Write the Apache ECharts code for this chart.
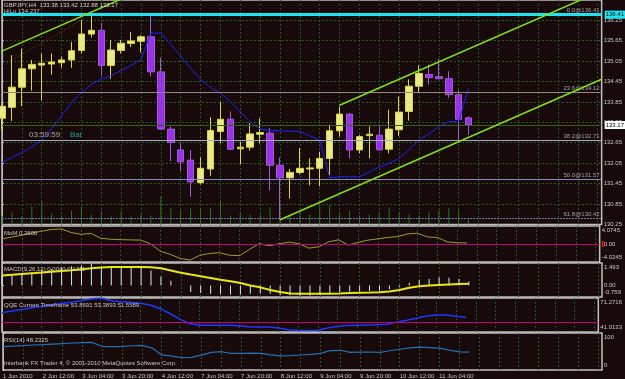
<!DOCTYPE html>
<html>
<head>
<meta charset="utf-8">
<script src="https://cdn.jsdelivr.net/npm/echarts@6/dist/echarts.min.js"></script>
<style>
  html, body { margin: 0; padding: 0; background: #180a0a; }
  #chart { width: 625px; height: 379px; }
</style>
</head>
<body>
<div id="chart"></div>
<script>
// GBPJPY H4 candles, 1 Jun 2010 .. 11 Jun 2010
var opens  = [133.37,133.69,134.28,134.82,134.93,134.96,135.00,135.08,135.36,135.84,135.95,134.92,135.36,135.56,135.63,135.76,134.73,133.05,132.44,132.14,131.48,131.88,132.98,133.34,132.47,132.52,132.90,132.93,131.99,131.62,131.78,131.88,131.90,132.19,133.00,133.49,132.44,132.86,132.87,132.46,133.03,133.57,134.31,134.65,134.59,134.53,134.06,133.38];
var highs  = [133.80,135.22,135.41,135.08,135.27,135.27,135.18,135.61,136.25,136.41,136.16,135.66,135.67,135.90,135.81,136.38,135.15,133.13,132.65,132.44,132.22,133.40,133.84,133.57,132.68,133.23,133.37,133.08,132.22,131.88,132.49,132.19,132.39,133.18,133.72,133.52,132.88,133.13,133.18,133.62,134.00,134.51,134.92,134.95,135.12,134.75,134.19,133.42];
var lows   = [133.03,133.29,133.72,134.18,133.89,134.65,134.85,134.85,135.27,135.74,134.62,134.53,135.27,135.46,135.30,134.60,133.03,132.11,131.82,131.06,131.43,131.68,132.63,132.44,132.02,132.42,132.63,131.25,130.39,131.01,131.72,131.40,131.37,131.70,132.83,132.19,132.34,132.19,132.42,132.34,132.85,133.30,134.11,134.36,134.51,133.97,132.68,132.88];
var closes = [133.72,134.28,134.82,134.95,134.98,135.02,135.08,135.35,135.84,135.95,134.92,135.37,135.57,135.64,135.76,134.73,133.05,132.66,132.09,131.50,131.90,133.01,133.34,132.46,132.52,132.91,132.95,131.99,131.62,131.78,131.90,131.91,132.19,133.00,133.49,132.44,132.83,132.90,132.44,133.05,133.55,134.31,134.68,134.56,134.53,134.06,133.34,133.17];
var volumes = [540,720,480,1080,1380,660,540,840,1080,600,780,480,780,480,660,540,1680,960,840,960,960,960,1440,540,720,600,600,1020,1320,540,720,600,1200,1200,720,840,540,600,720,1020,720,600,540,720,840,960,840,360];
var hiLo = [132.07,132.22,132.36,132.53,132.72,133.06,133.44,133.83,134.12,134.36,134.52,134.62,134.77,134.92,135.10,135.87,135.87,135.54,135.19,134.83,134.51,134.27,134.11,133.86,133.56,133.27,133.05,133.01,133.00,132.99,132.98,132.85,132.73,131.62,131.65,131.65,131.65,131.79,131.94,132.05,132.19,132.44,132.73,132.91,133.12,133.27,133.27,134.24];

// indicator windows
var momValues  = [1.16,1.6,2.0,2.5,2.9,3.3,3.4,2.6,2.2,2.4,1.3,1.1,1.0,0.95,0.9,0.1,-1.6,-2.3,-3.2,-3.6,-2.5,-2.1,-1.95,-2.5,-2.6,-1.2,0.1,-0.35,0.05,0.45,0.1,-0.9,-0.6,0.5,0.95,-0.2,0.4,0.9,1.2,1.5,1.7,2.3,2.45,1.6,1.5,0.5,0.3,0.26];
var macdHist   = [0.67,0.72,0.80,0.87,1.04,1.09,1.20,1.28,1.35,1.45,1.28,1.20,1.20,1.16,1.16,0.99,0.60,0.31,0.02,-0.42,-0.50,-0.55,-0.58,-0.60,-0.60,-0.55,-0.52,-0.55,-0.62,-0.65,-0.66,-0.66,-0.62,-0.50,-0.42,-0.40,-0.38,-0.36,-0.34,-0.25,-0.10,0.19,0.36,0.43,0.55,0.51,0.43,0.26];
var macdSignal = [0.67,0.72,0.77,0.82,0.86,0.92,0.97,1.02,1.08,1.14,1.20,1.22,1.23,1.23,1.22,1.21,1.15,1.0,0.85,0.73,0.62,0.50,0.38,0.28,0.17,0.0,-0.12,-0.30,-0.43,-0.52,-0.54,-0.55,-0.55,-0.54,-0.52,-0.49,-0.47,-0.46,-0.44,-0.40,-0.30,-0.15,-0.05,0.0,0.04,0.07,0.10,0.12];
var qqeValues  = [58.2,59.6,61.0,62.6,64.0,65.2,66.3,67.5,68.8,70.3,71.2,69.0,68.0,67.4,66.5,65.0,62.0,57.5,52.5,48.5,47.0,47.0,47.0,47.0,46.5,45.6,45.4,45.4,44.5,43.0,42.6,42.4,42.6,44.5,46.1,46.8,47.0,47.2,47.4,48.0,49.8,51.5,53.3,55.3,56.1,56.1,55.0,53.87];
var rsiValues  = [63.3,64.5,66.0,67.5,68.5,70.0,71.5,73.0,74.0,74.4,63.5,63.3,64.0,65.5,66.5,60.0,41.0,37.5,33.5,34.0,40.0,47.5,49.4,45.0,45.2,45.5,45.0,41.0,38.3,39.0,40.5,42.2,45.0,52.5,53.3,47.8,48.2,48.6,47.5,52.0,56.1,60.0,61.7,60.5,58.9,53.5,49.0,48.23];

// axis texts
var timeLabels = ['1 Jun 2010','2 Jun 12:00','3 Jun 04:00','3 Jun 20:00','4 Jun 12:00','7 Jun 04:00','7 Jun 20:00','8 Jun 12:00','9 Jun 04:00','9 Jun 20:00','10 Jun 12:00','11 Jun 04:00'];
var momTicks  = ['4.0745','0.00','-4.0245'];
var macdTicks = ['1.493','0.00','-0.759'];
var qqeTicks  = ['71.2716','50','41.0133'];
var rsiTicks  = ['100','0'];

// objects drawn on the price window
var fibLevels = [0, 23.6, 38.2, 50.0, 61.8];
var fibPrices = [136.41, 134.12, 132.71, 131.57, 130.42];
var hiLine = 136.41;
var bidPrice = 133.17;
var lowerChannel = [[28, 130.39], [46, 132.68]];
var upperChannelStart = [34, 133.75];
var oldChannelStart = [0, 135.34];
var dottedTrend = [[0, 134.90], [8.2, 136.29]];

var FONT = 'Liberation Sans';
var xMax = 60.4;
var priceMin = 130.25, priceMax = 136.84, priceStep = 0.6;
var gridColor = '#1f5a1f';
var frameColor = '#c0c0c0';
var textColor = '#c8c8c8';

var slope = (lowerChannel[1][1] - lowerChannel[0][1]) / (lowerChannel[1][0] - lowerChannel[0][0]);
function ray(start, fromK, toK) {
    return [[fromK, start[1] + (fromK - start[0]) * slope], [toK, start[1] + (toK - start[0]) * slope]];
}
function indexed(arr) {
    return arr.map(function (v, i) { return [i, v]; });
}

var grids = [
    { left: 2, right: 23, top: 0, height: 224.5 },
    { left: 2, right: 23, top: 226, height: 36 },
    { left: 2, right: 23, top: 263, height: 34 },
    { left: 2, right: 23, top: 298, height: 34 },
    { left: 2, right: 23, top: 333, height: 37 }
].map(function (g) {
    g.show = true;
    g.borderColor = frameColor;
    g.borderWidth = 1.5;
    g.backgroundColor = 'transparent';
    return g;
});

var xAxes = grids.map(function (g, i) {
    return {
        type: 'value', gridIndex: i, min: 0, max: xMax, interval: 2,
        axisLine: { show: false }, axisTick: { show: false },
        splitLine: { show: true, showMaxLine: false, lineStyle: { color: gridColor, type: [2, 2], width: 1 } },
        axisLabel: i === 4 ? {
            show: true, align: 'left', margin: 3, fontSize: 6, fontFamily: FONT, color: textColor,
            showMaxLabel: false,
            formatter: function (v) {
                if (v % 4 !== 0) return '';
                return timeLabels[v / 4] || '';
            }
        } : { show: false }
    };
});

function panelAxis(gridIndex, ticks, min, max, zeroMark) {
    var values = ticks.map(parseFloat);
    return {
        type: 'value', gridIndex: gridIndex, position: 'right', min: min, max: max,
        splitLine: { show: false },
        axisLine: { show: true, lineStyle: { color: frameColor } },
        axisTick: { show: true, length: 2, customValues: values, lineStyle: { color: frameColor } },
        axisLabel: {
            show: true, margin: 2, customValues: values, showMinLabel: true, showMaxLabel: true,
            fontSize: 6, fontFamily: FONT, color: textColor,
            formatter: function (v) {
                var txt = ticks[values.indexOf(v)];
                if (v === max) return '{top|' + txt + '}';
                if (v === min) return '{bot|' + txt + '}';
                if (txt === '50') return '{red|' + txt + '}';
                return (zeroMark ? '{mk|}' : '') + '{mid|' + txt + '}';
            },
            rich: {
                top: { padding: [9, 0, 0, 0], fontSize: 6, fontFamily: FONT, color: textColor },
                bot: { padding: [0, 0, 9, 0], fontSize: 6, fontFamily: FONT, color: textColor },
                mid: { fontSize: 6, fontFamily: FONT, color: textColor },
                red: { fontSize: 6, fontFamily: FONT, color: '#ffffff', backgroundColor: '#e01010', padding: [0, 1] },
                mk: { width: 2, height: 6, backgroundColor: '#e01010' }
            }
        }
    };
}

var yAxes = [
    {
        type: 'value', gridIndex: 0, position: 'right', min: priceMin, max: priceMax, interval: priceStep,
        axisLine: { show: true, lineStyle: { color: frameColor } },
        axisTick: { show: true, length: 2, lineStyle: { color: frameColor } },
        splitLine: { show: true, showMaxLine: false, showMinLine: false, lineStyle: { color: gridColor, type: [2, 2] } },
        axisLabel: {
            margin: 2, fontSize: 6, fontFamily: FONT, color: textColor, showMaxLabel: false, showMinLabel: true,
            formatter: function (v) {
                var steps = (v - priceMin) / priceStep;
                return Math.abs(steps - Math.round(steps)) < 1e-6 ? v.toFixed(2) : '';
            }
        }
    },
    panelAxis(1, momTicks, -4.0245, 4.0745, true),
    panelAxis(2, macdTicks, -0.759, 1.493, false),
    panelAxis(3, qqeTicks, 41.0133, 71.2716, false),
    panelAxis(4, rsiTicks, 0, 100, false),
    { type: 'value', gridIndex: 0, min: 0, max: 13470, show: false, splitLine: { show: false } }
];

var fibColors = ['#8c8c8c', '#8c8c7c', '#a8a8c8', '#8888c4', '#6a78a8'];
var fibMarks = fibLevels.map(function (lv, i) {
    return {
        yAxis: fibPrices[i],
        lineStyle: { color: fibColors[i], width: 1, type: i === 4 ? [2, 1] : 'solid' },
        label: {
            show: true, position: 'insideEndTop', distance: [2, 1],
            formatter: lv.toFixed(1) + '@' + fibPrices[i].toFixed(2),
            fontSize: 6, fontFamily: FONT, color: '#a0a0a0'
        }
    };
});
var priceMarks = [
    {
        yAxis: hiLine,
        lineStyle: { color: '#1ee4f2', width: 3, type: 'solid' },
        label: {
            show: true, position: 'end', distance: 3, formatter: hiLine.toFixed(2),
            fontSize: 6, fontFamily: FONT, color: '#000000', backgroundColor: '#1ee4f2', padding: [1, 1]
        }
    },
    {
        yAxis: bidPrice,
        lineStyle: { color: '#3c5c1c', width: 1, type: 'solid' },
        label: {
            show: true, position: 'end', distance: 3, formatter: bidPrice.toFixed(2),
            fontSize: 6, fontFamily: FONT, color: '#000000', backgroundColor: '#ffffff', padding: [1, 1]
        }
    }
];

var limeLine = { color: '#82e012', width: 1.5 };
function overlayLine(data, style, z) {
    return {
        type: 'line', xAxisIndex: 0, yAxisIndex: 0, data: data, showSymbol: false, symbol: 'none',
        lineStyle: style, clip: true, silent: true, z: z || 6
    };
}

var series = [
    {
        type: 'bar', xAxisIndex: 0, yAxisIndex: 5, data: indexed(volumes), barWidth: 1,
        itemStyle: { color: '#1f7a1f' }, silent: true, z: 1
    },
    {
        type: 'candlestick', xAxisIndex: 0, yAxisIndex: 0, barWidth: 7, z: 3,
        data: opens.map(function (o, i) { return [i, o, closes[i], lows[i], highs[i]]; }),
        itemStyle: {
            color: '#eaea8a', color0: '#9a32e8',
            borderColor: '#d8d840', borderColor0: '#a25ad8', borderWidth: 1
        },
        markLine: {
            silent: true, symbol: ['none', 'none'], animation: false,
            data: fibMarks.concat(priceMarks)
        }
    },
    overlayLine(indexed(hiLo), { color: '#1c22ff', width: 1 }, 4),
    overlayLine(ray(lowerChannel[0], lowerChannel[0][0], xMax), limeLine),
    overlayLine(ray(upperChannelStart, upperChannelStart[0], xMax), limeLine),
    overlayLine(ray(oldChannelStart, -1, 14), limeLine),
    overlayLine(dottedTrend, { color: '#8a3a2a', width: 1, type: [1, 2] }, 5),
    {
        type: 'line', xAxisIndex: 1, yAxisIndex: 1, data: indexed(momValues), symbol: 'none',
        lineStyle: { color: '#a09a30', width: 1 }, z: 4,
        markLine: {
            silent: true, symbol: ['none', 'none'], label: { show: false },
            data: [{ yAxis: 0, lineStyle: { color: '#c4007c', width: 1, type: 'solid' } }]
        }
    },
    {
        type: 'bar', xAxisIndex: 2, yAxisIndex: 2, data: indexed(macdHist), barWidth: 1,
        itemStyle: { color: '#c8eef0' }, z: 3
    },
    {
        type: 'line', xAxisIndex: 2, yAxisIndex: 2, data: indexed(macdSignal), symbol: 'none',
        lineStyle: { color: '#e8e810', width: 2 }, z: 4
    },
    {
        type: 'line', xAxisIndex: 3, yAxisIndex: 3, data: indexed(qqeValues), symbol: 'none',
        lineStyle: { color: '#1e38ff', width: 1.5 }, z: 4,
        markLine: {
            silent: true, symbol: ['none', 'none'], label: { show: false },
            data: [{ yAxis: 50, lineStyle: { color: '#c4007c', width: 1, type: 'solid' } }]
        }
    },
    {
        type: 'line', xAxisIndex: 4, yAxisIndex: 4, data: indexed(rsiValues), symbol: 'none',
        lineStyle: { color: '#2470b4', width: 1.2 }, z: 4
    }
];

function label(x, y, text, color, size) {
    return {
        type: 'text', x: x, y: y, silent: true, z: 20,
        style: {
            text: text, fill: color || textColor, fontSize: size || 6, fontFamily: FONT,
            verticalAlign: 'middle', textVerticalAlign: 'middle'
        }
    };
}

var graphics = [
    label(4, 5, 'GBPJPY,H4  133.38 133.42 132.88 133.17', '#d4d4d4'),
    label(4, 11, 'HiLo 134.237', '#c0c0c0'),
    label(29, 135, '03:59:59', '#a8a8a8', 8),
    label(70, 135, 'Bar', '#1aa0a8', 8),
    label(4, 233, 'MoM 0.2600'),
    label(4, 269, 'MACD(9,26,12) 0.0040 0.1211'),
    label(4, 305, 'QQE Current Timeframe 53.8691 53.3893 51.5589'),
    label(4, 340, 'RSI(14) 48.2325'),
    label(4, 363, 'Interbank FX Trader 4, \u00a9 2001-2010 MetaQuotes Software Corp.')
];

var chart = echarts.init(document.getElementById('chart'), null, { renderer: 'canvas' });
chart.setOption({
    backgroundColor: '#180a0a',
    animation: false,
    textStyle: { fontFamily: FONT },
    grid: grids,
    xAxis: xAxes,
    yAxis: yAxes,
    series: series,
    graphic: graphics
});
</script>
</body>
</html>
